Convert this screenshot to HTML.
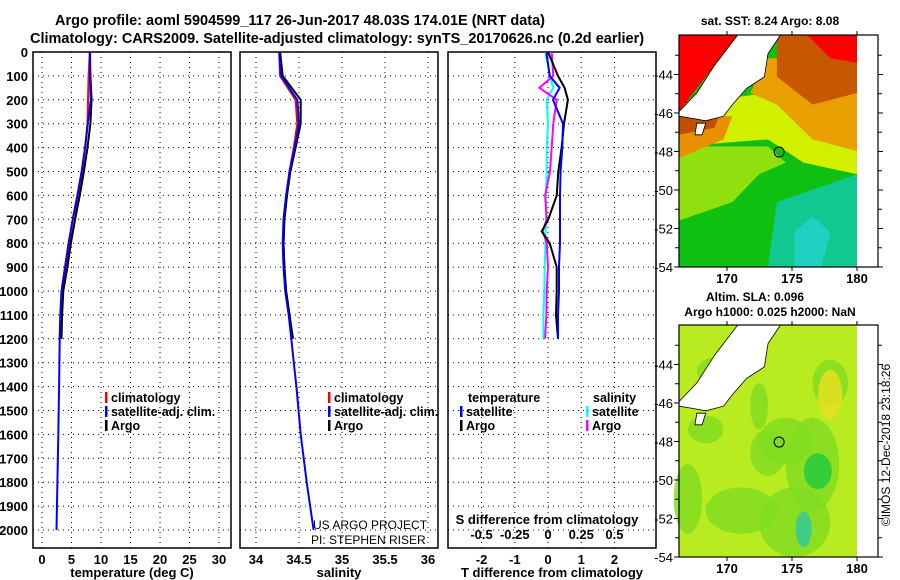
<!DOCTYPE html>
<html><head><meta charset="utf-8"><style>
body{margin:0;background:#fff;}
svg{display:block;font-family:"Liberation Sans",Arial,sans-serif;font-weight:bold;}
</style></head><body>
<svg id="c" width="900" height="580" viewBox="0 0 900 580" xmlns="http://www.w3.org/2000/svg">
<text x="55" y="25" font-size="14.5">Argo profile: aoml 5904599_117 26-Jun-2017 48.03S 174.01E (NRT data)</text>
<text x="30" y="43" font-size="14.5">Climatology: CARS2009. Satellite-adjusted climatology: synTS_20170626.nc (0.2d earlier)</text>
<g id="maps"></g>
<g id="panels"></g>
</svg>
<script>
// ---- data ----
const depthsArgo = [0,100,200,300,400,500,600,700,800,900,1000,1100,1200];
const argoT = [8.1,8.2,8.4,8.2,7.7,7.1,6.4,5.6,4.9,4.3,3.6,3.4,3.3];
const climT = [8.1,7.9,7.8,7.7,7.3,6.8,6.1,5.6,4.8,4.0,3.35,3.15,3.0];
const depthsSat = [0,100,200,300,400,500,600,700,800,900,1000,1100,1200,1300,1400,1600,1800,2000];
const satT = [8.15,8.15,8.25,7.75,7.3,6.7,6.0,5.2,4.5,3.9,3.3,3.1,3.0,2.95,2.9,2.75,2.6,2.45];
const argoS = [34.28,34.31,34.52,34.52,34.46,34.40,34.36,34.33,34.32,34.33,34.35,34.39,34.43];
const climS = [34.27,34.28,34.46,34.48,34.44,34.39,34.36,34.33,34.32,34.33,34.35,34.39,34.42];
const satS = [34.27,34.29,34.48,34.5,34.45,34.39,34.35,34.32,34.31,34.32,34.34,34.38,34.41,34.44,34.47,34.52,34.59,34.67];
const diffDepths = [0,100,150,200,300,400,500,600,700,750,800,900,1000,1100,1200];
const argoTdiff = [0.0,0.3,0.5,0.6,0.48,0.41,0.31,0.26,0.01,-0.19,0.05,0.26,0.26,0.24,0.3];
const satTdiff = [-0.05,0.05,0.35,0.15,0.45,0.43,0.38,0.36,0.36,0.36,0.36,0.33,0.33,0.3,0.3];
const argoSdiff = [0.028,0.04,-0.065,0.065,0.04,0.028,0.015,-0.022,-0.01,-0.04,-0.01,0.0,-0.01,-0.012,-0.022];
const satSdiff = [-0.02,0.015,0.04,-0.01,0.0,-0.01,-0.01,-0.015,-0.015,-0.018,-0.02,-0.025,-0.028,-0.035,-0.035];
const depthTicks = [0,100,200,300,400,500,600,700,800,900,1000,1100,1200,1300,1400,1500,1600,1700,1800,1900,2000];
const tTicks = [0,5,10,15,20,25,30];
const sTicks = [34,34.5,35,35.5,36];
const tdTicks = [-2,-1,0,1,2];
const sdTicks = [-0.5,-0.25,0,0.25,0.5];
const latTicks = [-44,-46,-48,-50,-52,-54];
const lonTicks = [170,175,180];

const NS="http://www.w3.org/2000/svg";
const svg=document.getElementById('c');
const P=document.getElementById('panels');
function mk(tag,at,parent){const e=document.createElementNS(NS,tag);for(const k in at)e.setAttribute(k,at[k]);(parent||P).appendChild(e);return e;}
const Y0=52,Y1=548;
const yD=d=>Y0+d*0.239;
const panels=[
 {x0:33,x1:231,lo:-1.53,hi:32.03,ticks:tTicks,name:'temperature-panel',label:'temperature (deg C)'},
 {x0:240,x1:438,lo:33.814,hi:36.116,ticks:sTicks,name:'salinity-panel',label:'salinity'},
 {x0:448,x1:656,lo:-3.01,hi:3.25,ticks:tdTicks,name:'difference-panel',label:'T difference from climatology'}
];
panels.forEach((p,i)=>{
 p.x=v=>p.x0+(v-p.lo)/(p.hi-p.lo)*(p.x1-p.x0);
 const g=mk('g',{});
 
 
 depthTicks.forEach(d=>{if(d>0)mk('line',{x1:p.x0,x2:p.x1,y1:yD(d),y2:yD(d),stroke:'#000','stroke-dasharray':'1 4','stroke-width':1},g);});
 p.ticks.forEach(t=>{const x=p.x(t);mk('line',{x1:x,x2:x,y1:Y0,y2:Y1,stroke:'#000','stroke-dasharray':'1 4','stroke-width':1},g);
  const tx=mk('text',{x:x,y:Y1+16,'font-size':13,'text-anchor':'middle'},g);tx.textContent=String(t);});
 mk('rect',{x:p.x0,y:Y0,width:p.x1-p.x0,height:Y1-Y0,fill:'none',stroke:'#000','stroke-width':1.5},g);
 const lb=mk('text',{x:(p.x0+p.x1)/2,y:Y1+29,'font-size':13,'text-anchor':'middle'},g);lb.textContent=p.label;
 
 
});
depthTicks.forEach(d=>{const t=mk('text',{x:28,y:yD(d)+5,'font-size':13,'text-anchor':'end'});t.textContent=String(d);});
function line(p,vals,deps,col,name,w){
 const pts=vals.map((v,i)=>p.x(v).toFixed(1)+','+yD(deps[i]).toFixed(1)).join(' ');
 const e=mk('polyline',{points:pts,fill:'none',stroke:col,'stroke-width':w||2});
 
 
}
const [pT,pS,pD]=panels;
line(pT,climT,depthsArgo,'#f00','climatology-temperature-line');
line(pT,argoT,depthsArgo,'#000','argo-temperature-line');
line(pT,satT,depthsSat,'#00f','satellite-temperature-line');
line(pS,climS,depthsArgo,'#f00','climatology-salinity-line');
line(pS,argoS,depthsArgo,'#000','argo-salinity-line');
line(pS,satS,depthsSat,'#00f','satellite-salinity-line');
const sd=v=>v*4; // S diff axis scaled onto T axis
line(pD,satSdiff.map(sd),diffDepths,'#0ff','satellite-salinity-diff-line');
line(pD,argoSdiff.map(sd),diffDepths,'#f0f','argo-salinity-diff-line');
line(pD,argoTdiff,diffDepths,'#000','argo-temperature-diff-line');
line(pD,satTdiff,diffDepths,'#00f','satellite-temperature-diff-line');
// S diff ticks
sdTicks.forEach(t=>{const tx=mk('text',{x:pD.x(t*4),y:539,'font-size':13,'text-anchor':'middle'});tx.textContent=String(t);});
const sl=mk('text',{x:547,y:524,'font-size':13,'text-anchor':'middle'});sl.textContent='S difference from climatology';


// legends
function leg(x,y,col,txt,name){const g=mk('g',{});
 mk('rect',{x:x,y:y-10,width:2.5,height:11,fill:col},g);const t=mk('text',{x:x+6,y:y,'font-size':12.5},g);t.textContent=txt;}
leg(105,402,'#f00','climatology','legend-climatology-t');
leg(105,416,'#00f','satellite-adj. clim.','legend-satellite-t');
leg(105,430,'#000','Argo','legend-argo-t');
leg(328,402,'#f00','climatology','legend-climatology-s');
leg(328,416,'#00f','satellite-adj. clim.','legend-satellite-s');
leg(328,430,'#000','Argo','legend-argo-s');
let t=mk('text',{x:468,y:402,'font-size':12.5});t.textContent='temperature';
t=mk('text',{x:593,y:402,'font-size':12.5});t.textContent='salinity';
leg(460,416,'#00f','satellite','legend-sat-tdiff');
leg(460,430,'#000','Argo','legend-argo-tdiff');
leg(586,416,'#0ff','satellite','legend-sat-sdiff');
leg(586,430,'#f0f','Argo','legend-argo-sdiff');
t=mk('text',{x:313,y:529,'font-size':12,'font-weight':'normal'});t.textContent='US ARGO PROJECT';
t=mk('text',{x:311,y:544,'font-size':12,'font-weight':'normal'});t.textContent='PI: STEPHEN RISER';

// ---- maps ----
const M=document.getElementById('maps');
function mapPanel(top,bot,name,isSST){
 const x0=679,x1=878,dataR=857;
 const g=mk('g',{},M);
 const lon=v=>727+(v-170)*13;
 const lat=v=>bot-(v+54)*(bot-top)/12.05;
 const W=dataR-x0;
 const pt=(a)=>a.map(q=>(x0+q[0]*W).toFixed(1)+','+(top+q[1]*(bot-top)).toFixed(1)).join(' ');
 if(isSST){
  mk('rect',{x:x0,y:top,width:W,height:bot-top,fill:'#10c010'},g);
  mk('polygon',{points:pt([[0.55,0.72],[1,0.6],[1,1],[0.5,1]]),fill:'#10c890'},g);
  mk('polygon',{points:pt([[0.65,0.85],[0.75,0.78],[0.85,0.85],[0.8,1],[0.65,1]]),fill:'#20d0c0'},g);
  mk('polygon',{points:pt([[0,0.48],[0.5,0.48],[0.6,0.55],[0.45,0.6],[0.3,0.72],[0,0.8]]),fill:'#90e010'},g);
  mk('polygon',{points:pt([[0,0.3],[1,0.2],[1,0.6],[0.7,0.55],[0.5,0.45],[0,0.48]]),fill:'#d0f000'},g);
  mk('polygon',{points:pt([[0.5,0.1],[1,0.1],[1,0.5],[0.75,0.45],[0.55,0.3],[0.4,0.25]]),fill:'#e8a000'},g);
  mk('polygon',{points:pt([[0,0.35],[0.3,0.35],[0.25,0.45],[0,0.53]]),fill:'#e89000'},g);
  mk('polygon',{points:pt([[0,0.28],[0.25,0.3],[0.2,0.4],[0,0.43]]),fill:'#c05000'},g);
  mk('polygon',{points:pt([[0.55,0],[1,0],[1,0.25],[0.75,0.3],[0.55,0.18]]),fill:'#c85800'},g);
  mk('polygon',{points:pt([[0.72,0],[1,0],[1,0.12],[0.85,0.1]]),fill:'#f00'},g);
  mk('polygon',{points:pt([[0,0],[0.33,0],[0,0.33]]),fill:'#f00'},g);
 } else {
  mk('rect',{x:x0,y:top,width:W,height:bot-top,fill:'#b8ec20'},g);
  [[0.15,0.45,0.1,0.06],[0.45,0.35,0.05,0.1],[0.6,0.5,0.15,0.1],[0.75,0.6,0.15,0.2],[0.35,0.8,0.2,0.1],[0.5,0.55,0.1,0.1],[0.2,0.2,0.1,0.06],[0.85,0.25,0.1,0.1],[0.65,0.85,0.2,0.15],[0.05,0.75,0.08,0.15]].forEach(r=>{
   mk('ellipse',{cx:x0+r[0]*W,cy:top+r[1]*(bot-top),rx:r[2]*W,ry:r[3]*(bot-top),fill:'#80dc20',opacity:0.8},g);});
  mk('ellipse',{cx:x0+0.85*W,cy:top+0.3*(bot-top),rx:12,ry:25,fill:'#e8e020',opacity:0.8},g);
  mk('ellipse',{cx:x0+0.78*W,cy:top+0.63*(bot-top),rx:14,ry:18,fill:'#20c840',opacity:0.8},g);
  mk('ellipse',{cx:x0+0.7*W,cy:top+0.88*(bot-top),rx:8,ry:18,fill:'#30c8a0',opacity:0.8},g);
 }
 // land (South Island)
 mk('polygon',{points:pt([[0,0.33],[0.1,0.25],[0.2,0.13],[0.33,0],[0.57,0],[0.5,0.08],[0.48,0.18],[0.38,0.23],[0.3,0.3],[0.25,0.35],[0.15,0.37],[0.08,0.36],[0,0.35]]),fill:'#fff',stroke:'#000','stroke-width':0.8},g);
 mk('polygon',{points:pt([[0.1,0.38],[0.15,0.38],[0.13,0.43],[0.09,0.43]]),fill:'#fff',stroke:'#000','stroke-width':0.8},g);
 mk('circle',{cx:lon(174.01),cy:lat(-48.03),r:5,fill:'none',stroke:'#000','stroke-width':1},g);
 mk('rect',{x:x0,y:top,width:x1-x0,height:bot-top,fill:'none',stroke:'#000','stroke-width':1.2},g);
 latTicks.forEach(v=>{const y=lat(v);mk('line',{x1:x0-5,x2:x0,y1:y,y2:y,stroke:'#000'},g);mk('line',{x1:x1,x2:x1+5,y1:y,y2:y,stroke:'#000'},g);
  const tx=mk('text',{x:x0-6,y:y+5,'font-size':13,'text-anchor':'end','font-weight':'normal'},g);tx.textContent=String(v);});
 [-43,-45,-47,-49,-51,-53].forEach(v=>{const y=lat(v);mk('line',{x1:x0-4,x2:x0,y1:y,y2:y,stroke:'#000'},g);mk('line',{x1:x1,x2:x1+4,y1:y,y2:y,stroke:'#000'},g);});
 lonTicks.forEach(v=>{const x=lon(v);mk('line',{x1:x,x2:x,y1:bot,y2:bot+4,stroke:'#000'},g);mk('line',{x1:x,x2:x,y1:top-4,y2:top,stroke:'#000'},g);
  const tx=mk('text',{x:x,y:bot+16,'font-size':13,'text-anchor':'middle'},g);tx.textContent=String(v);});
}
mapPanel(35,267,'sst-map',true);
mapPanel(325,557,'sla-map',false);
t=mk('text',{x:770,y:25,'font-size':12,'text-anchor':'middle'},M);t.textContent='sat. SST: 8.24 Argo: 8.08';
t=mk('text',{x:755,y:301,'font-size':12,'text-anchor':'middle'},M);t.textContent='Altim. SLA: 0.096';
t=mk('text',{x:770,y:316,'font-size':12,'text-anchor':'middle'},M);t.textContent='Argo h1000: 0.025 h2000: NaN';
t=mk('text',{x:890,y:445,'font-size':12,'text-anchor':'middle','font-weight':'normal',transform:'rotate(-90 890 445)'},M);t.textContent='©IMOS 12-Dec-2018 23:18:26';
</script>
</body></html>
